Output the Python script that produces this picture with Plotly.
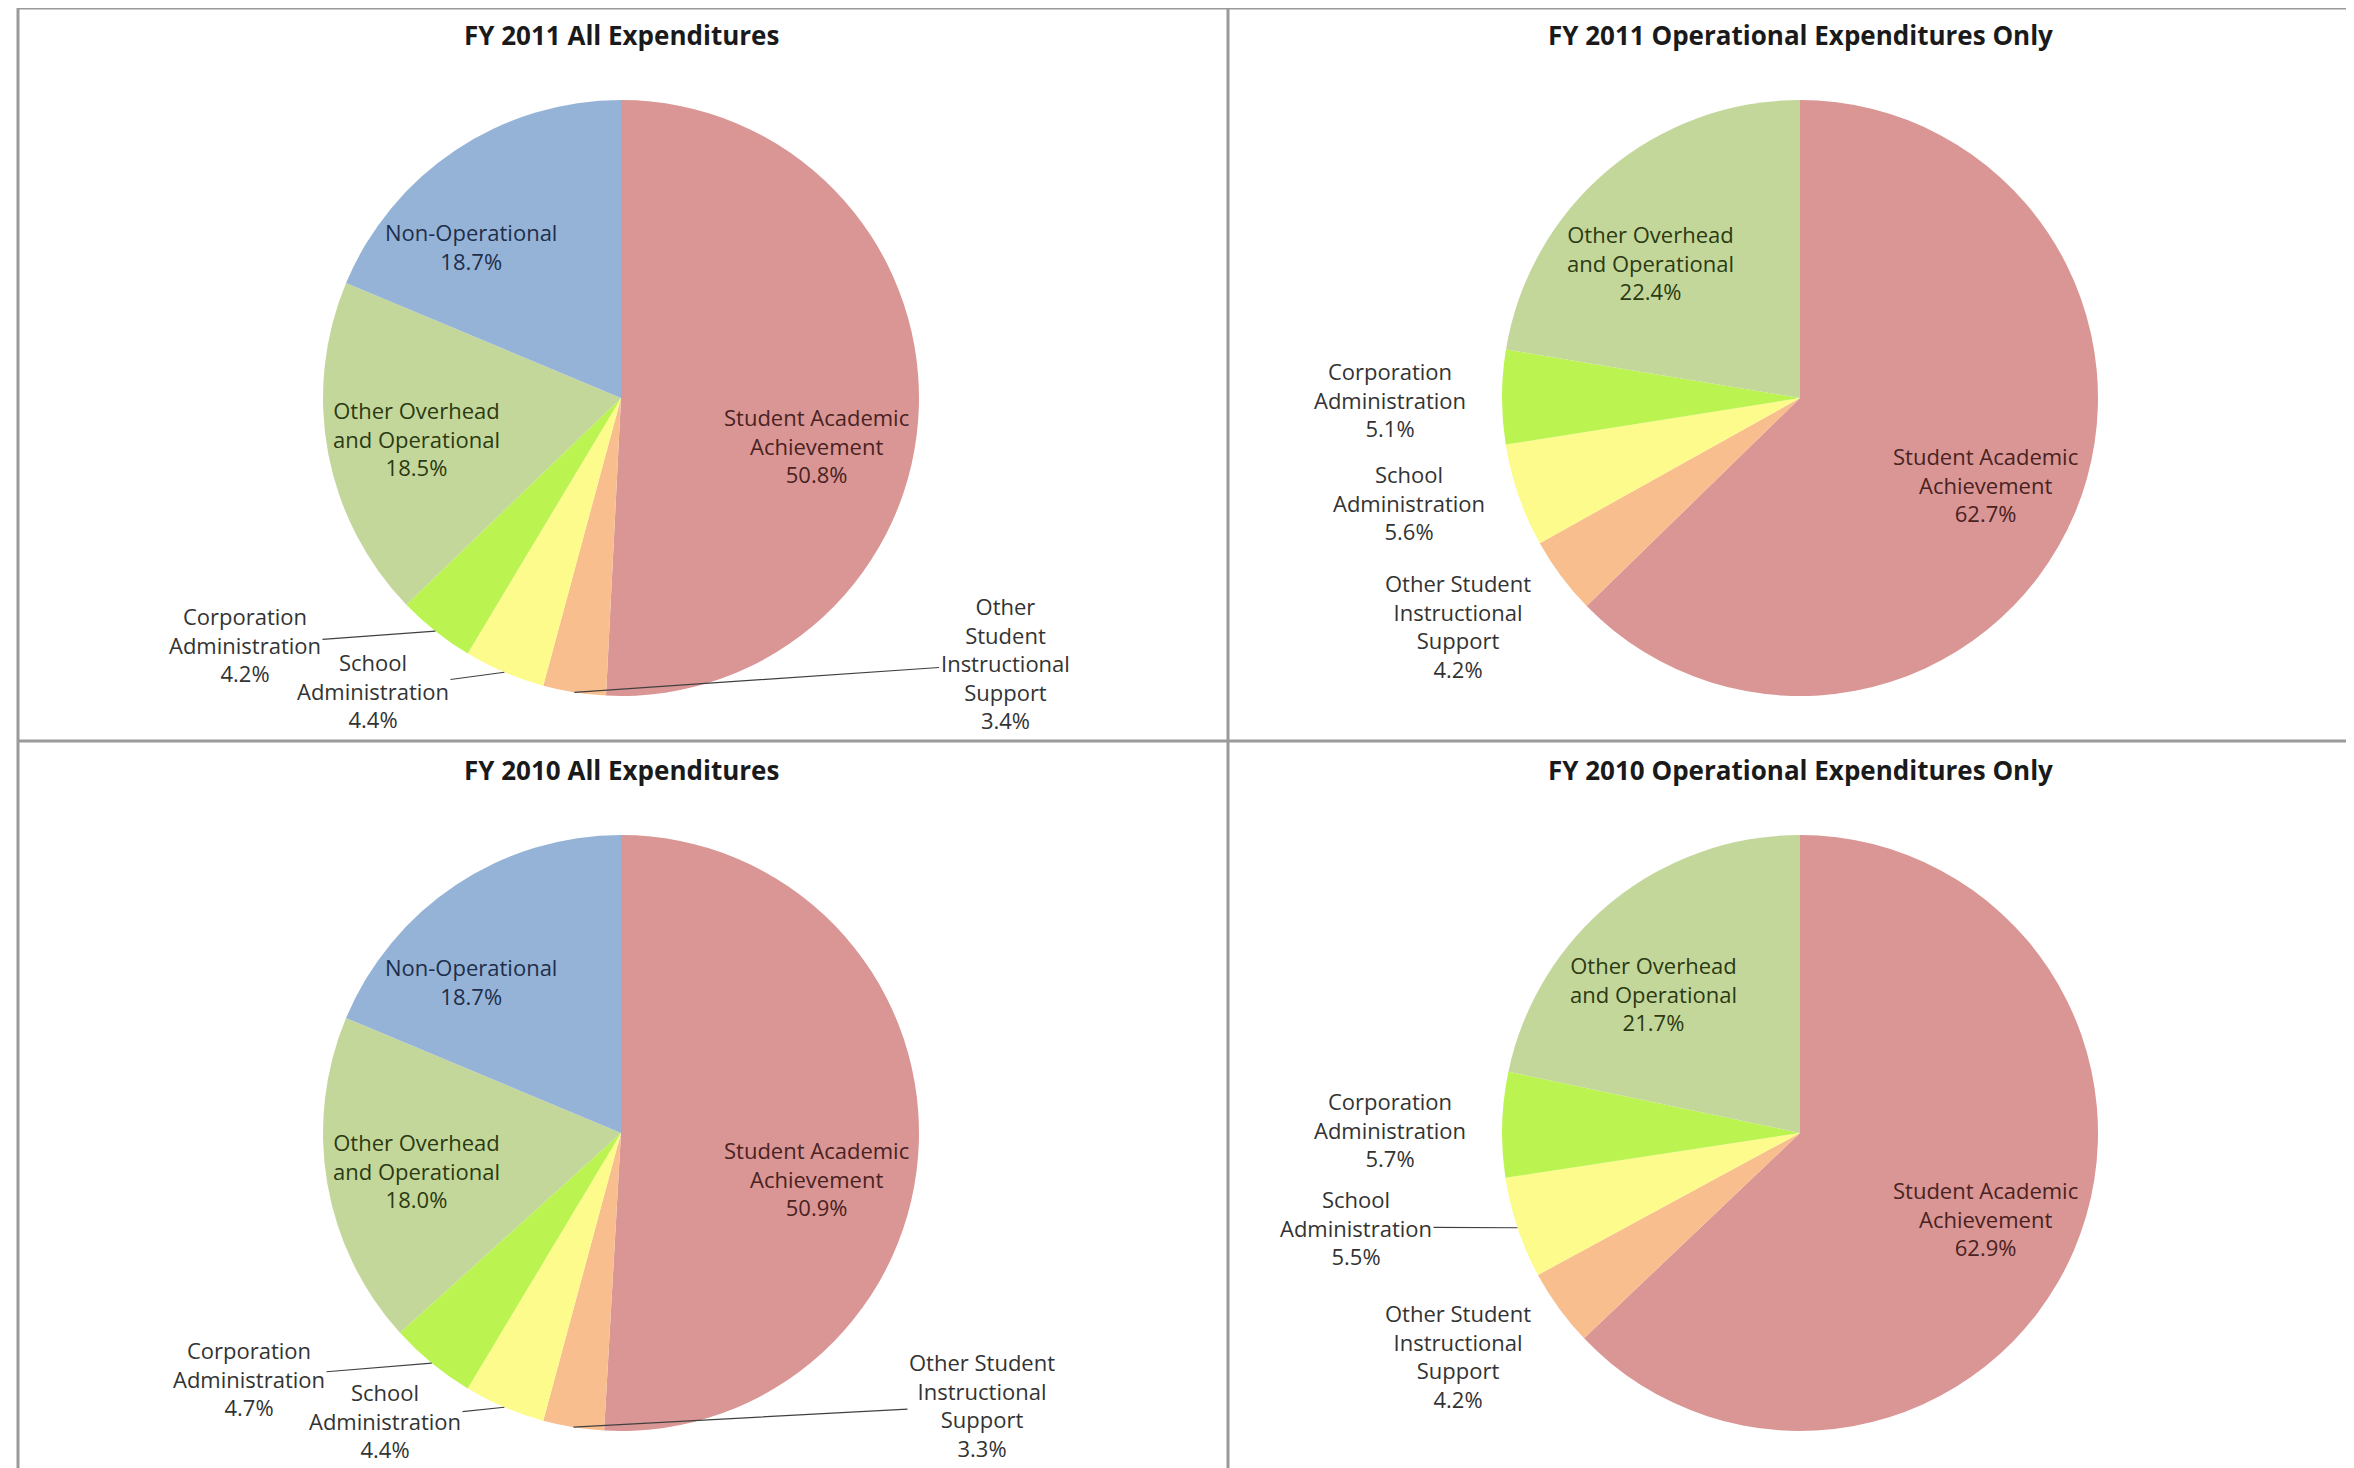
import math
import plotly.graph_objects as go

W, H = 2354, 1468
OFF = 8  # browser default body margin compensation

# ---------------- data ----------------
categories = ["Student Academic Achievement", "Other Student Instructional Support",
              "School Administration", "Corporation Administration",
              "Other Overhead and Operational", "Non-Operational"]

fy2011_all = [50.8, 3.4, 4.4, 4.2, 18.5, 18.7]
fy2011_op = [62.7, 4.2, 5.6, 5.1, 22.4]
fy2010_all = [50.9, 3.3, 4.4, 4.7, 18.0, 18.7]
fy2010_op = [62.9, 4.2, 5.5, 5.7, 21.7]

titles = ["FY 2011 All Expenditures", "FY 2011 Operational Expenditures Only",
          "FY 2010 All Expenditures", "FY 2010 Operational Expenditures Only"]

colors = ["#D99694", "#F9BE8E", "#FDFB8C", "#BBF450", "#C4D79B", "#95B3D7"]
text_colors = ["#4A2222", "#333333", "#333333", "#333333", "#2B3A12", "#1E2E4A"]

# wrapped display names (layout only)
wrap_default = ["Student Academic<br>Achievement", "Other Student<br>Instructional<br>Support",
                "School<br>Administration", "Corporation<br>Administration",
                "Other Overhead<br>and Operational", "Non-Operational"]
wrap_tl = list(wrap_default)
wrap_tl[1] = "Other<br>Student<br>Instructional<br>Support"

# ---------------- layout per panel ----------------
R = 298
FONT = "Open Sans"
LABEL_SIZE = 22
TITLE_SIZE = 26

panels = [
    dict(values=fy2011_all, cx=621, cy=398, wrap=wrap_tl,
         # (mode, x, y, leader): 'rel' -> offset from centre, 'abs' -> absolute px
         pos=[("rel", 195, 47, False), ("abs", 1005, 663, True), ("abs", 373, 690, True),
              ("abs", 245, 645, True), ("rel", -205, 40, False), ("rel", -150, -152, False)]),
    dict(values=fy2011_op, cx=1800, cy=398, wrap=wrap_default,
         pos=[("rel", 185, 86, False), ("abs", 1458, 626, False), ("abs", 1409, 503, False),
              ("abs", 1390, 399, False), ("rel", -150, -135, False)]),
    dict(values=fy2010_all, cx=621, cy=1133, wrap=wrap_default,
         pos=[("rel", 195, 45, False), ("abs", 982, 1405, True), ("abs", 385, 1420, True),
              ("abs", 249, 1378, True), ("rel", -205, 37, False), ("rel", -150, -152, False)]),
    dict(values=fy2010_op, cx=1800, cy=1133, wrap=wrap_default,
         pos=[("rel", 185, 85, False), ("abs", 1458, 1356, False), ("abs", 1356, 1227, True),
              ("abs", 1390, 1129, False), ("rel", -147, -140, False)]),
]
title_pos = [(621, 35), (1800, 35), (621, 770), (1800, 770)]

fig = go.Figure()
annotations = []


def px2paper(x, y):
    return (x - OFF) / W, 1 - (y - OFF) / H


for i, p in enumerate(panels):
    vals = p["values"]
    n = len(vals)
    cx, cy = p["cx"], p["cy"]
    x0, y1 = px2paper(cx - R, cy - R)
    x1, y0 = px2paper(cx + R, cy + R)
    fig.add_trace(go.Pie(
        values=vals,
        labels=categories[:n],
        marker=dict(colors=colors[:n], line=dict(width=0)),
        sort=False, direction="clockwise", rotation=0,
        textinfo="none", showlegend=False,
        hovertemplate="%{label}: %{value:.1f}%<extra></extra>",
        domain=dict(x=[x0, x1], y=[y0, y1]),
    ))
    total = sum(vals)
    cum = 0.0
    for k, v in enumerate(vals):
        mid = (cum + v / 2) / total * 2 * math.pi
        cum += v
        mode, lx, ly, leader = p["pos"][k]
        if mode == "rel":
            tx, ty = cx + lx, cy + ly
        else:
            tx, ty = lx, ly
        text = f"{p['wrap'][k]}<br>{v:.1f}%"
        font = dict(family=FONT, size=LABEL_SIZE, color=text_colors[k])
        if leader:
            tipx = cx + R * math.sin(mid)
            tipy = cy - R * math.cos(mid)
            px_, py_ = px2paper(tipx, tipy)
            annotations.append(dict(
                x=px_, y=py_, xref="paper", yref="paper",
                ax=tx - tipx, ay=ty - tipy, axref="pixel", ayref="pixel",
                text=text, showarrow=True, arrowhead=0, arrowwidth=1.2,
                arrowcolor="#404040", standoff=0, startstandoff=0,
                font=font, align="center"))
        else:
            px_, py_ = px2paper(tx, ty)
            annotations.append(dict(
                x=px_, y=py_, xref="paper", yref="paper",
                xanchor="center", yanchor="middle",
                text=text, showarrow=False, font=font, align="center"))

for t, (tx, ty) in zip(titles, title_pos):
    px_, py_ = px2paper(tx, ty)
    annotations.append(dict(
        x=px_, y=py_, xref="paper", yref="paper", xanchor="center", yanchor="middle",
        text=f"<b>{t}</b>", showarrow=False,
        font=dict(family=FONT, size=TITLE_SIZE, color="#1a1a1a")))

line_style = dict(color="#9a9a9a", width=3)
lx0, ty0 = px2paper(18, 8)
vx, hy = px2paper(1228, 741)
shapes = [
    dict(type="line", xref="paper", yref="paper", x0=lx0, x1=1, y0=ty0, y1=ty0, line=line_style),
    dict(type="line", xref="paper", yref="paper", x0=lx0, x1=lx0, y0=0, y1=ty0, line=line_style),
    dict(type="line", xref="paper", yref="paper", x0=vx, x1=vx, y0=0, y1=ty0, line=line_style),
    dict(type="line", xref="paper", yref="paper", x0=lx0, x1=1, y0=hy, y1=hy, line=line_style),
]

fig.update_layout(
    width=W, height=H,
    margin=dict(l=0, r=0, t=0, b=0),
    paper_bgcolor="white", plot_bgcolor="white",
    annotations=annotations, shapes=shapes,
    font=dict(family=FONT),
)

fig.write_html("out.html")
